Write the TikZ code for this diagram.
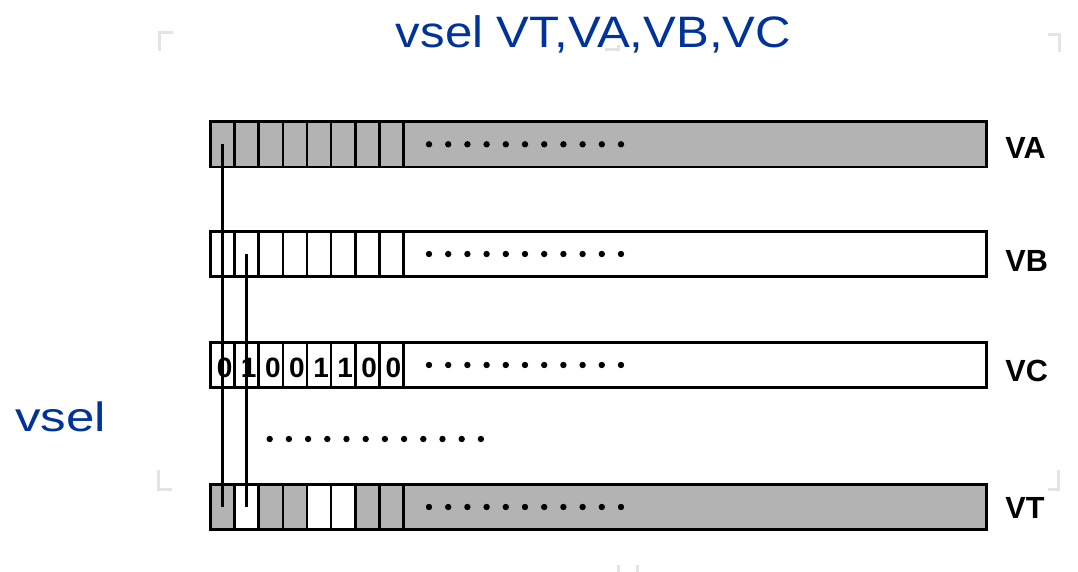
\documentclass[tikz,border=0pt]{standalone}
\usepackage{fontspec}
\setmainfont{Liberation Sans}
\usepackage{tikz}
\usetikzlibrary{calc, positioning}
\definecolor{selblue}{RGB}{0,51,153}
\definecolor{reggray}{RGB}{179,179,179}
\definecolor{markgray}{RGB}{228,228,228}
\tikzstyle{register} = [rectangle, line width=1.35pt, minimum width=388pt, minimum height=22.75pt, inner sep=0pt, outer sep=0pt, draw=black]
\tikzstyle{cell} = [rectangle, line width=1.35pt, minimum width=12.06pt, minimum height=22.75pt, inner sep=0pt, outer sep=0pt, draw=black]
\tikzstyle{reglabel} = [inner sep=0pt, anchor=west, font=\fontsize{15.3}{17}\selectfont\bfseries]
\tikzstyle{bit} = [inner sep=0pt, font=\fontsize{14}{16}\selectfont\bfseries]
\tikzstyle{heading} = [inner sep=0pt, text=selblue, font=\fontsize{22}{26}\selectfont]
\tikzstyle{wire} = [line width=1.5pt]
\tikzstyle{pagemark} = [line width=1.5pt, draw=markgray]

\begin{document}
\begin{tikzpicture}[x=0.5pt, y=-0.5pt]
		\useasboundingbox (0,0) rectangle (1078,572);
		% placeholder corners of the slide
		\draw [pagemark] (159,51) -- (159,32.5) -- (173,32.5);
		\draw [pagemark] (1048,34.5) -- (1059.5,34.5) -- (1059.5,52);
		\draw [pagemark] (158.5,470) -- (158.5,489.5) -- (172,489.5);
		\draw [pagemark] (1058.5,470) -- (1058.5,489.5) -- (1048,489.5);
		\draw [pagemark] (605,50) -- (618,50) -- (618,45);
		\draw [pagemark] (618,565) -- (618,572);
		\draw [pagemark] (637.5,565) -- (637.5,572);
		\node (Title) [heading, anchor=base] at (593.5,48) {\scalebox{1.117}[1]{vsel VT,VA,VB,VC}};
		\node (Vsel) [heading, anchor=base west, font=\fontsize{20.5}{24}\selectfont] at (15,432) {\scalebox{1.247}[1]{vsel}};
		% registers
		\node (VAbar) [register, fill=reggray] at (598.5,144.3) {};
		\node (VBbar) [register, fill=white] at (598.5,254) {};
		\node (VCbar) [register, fill=white] at (598.5,365) {};
		\node (VTbar) [register, fill=reggray] at (598.5,507) {};
		\foreach \reg/\f in {VA/reggray, VB/white, VC/white}
			\foreach \i in {0,...,7}
				\node (\reg c\i) [cell, fill=\f] at ($(\reg bar.west)+(12.06+24.12*\i,0)$) {};
		\foreach \f [count=\i from 0] in {reggray, white, reggray, reggray, white, white, reggray, reggray}
			\node (VTc\i) [cell, fill=\f] at ($(VTbar.west)+(12.06+24.12*\i,0)$) {};
		\foreach \i/\b in {0/0, 1/1, 2/0, 3/0, 4/1, 5/1, 6/0, 7/0}
			\node (VCb\i) [bit] at ($(VCc\i)+(2,2.5)$) {\b};
		\foreach \reg in {VA, VB, VC, VT}
			\foreach \k in {0,...,10}
				\fill ($(\reg bar.west)+(218.5+19.2*\k,0)$) circle (1.6pt);
		\foreach \k in {0,...,11}
			\fill (269.7+19.2*\k,439) circle (1.6pt);
		\node (VAlabel) [reglabel] at (1005,147.5) {VA};
		\node (VBlabel) [reglabel] at (1005,261) {VB};
		\node (VClabel) [reglabel] at (1005,370.5) {VC};
		\node (VTlabel) [reglabel] at (1005,507.5) {VT};
		\draw [wire] (VAc0.center) -- (VTc0.center);
		\draw [wire] (VBc1.center) -- (VTc1.center);
\end{tikzpicture}
\end{document}
